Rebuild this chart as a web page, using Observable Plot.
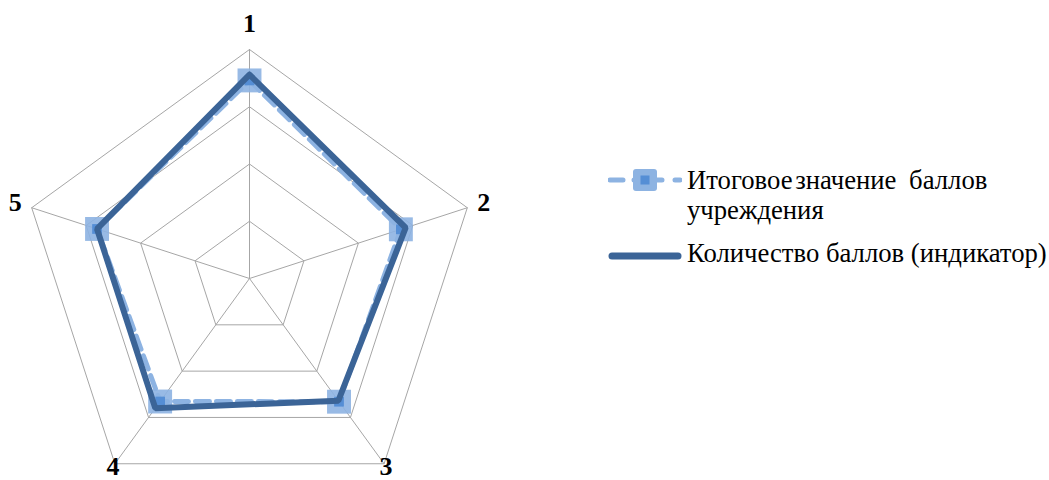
<!DOCTYPE html>
<html><head><meta charset="utf-8">
<script src="https://cdn.jsdelivr.net/npm/d3@7"></script>
<script src="https://cdn.jsdelivr.net/npm/@observablehq/plot@0.6"></script>
<style>
body{margin:0;background:#fff;}
#wrap{position:relative;width:1049px;height:480px;}
#legend{position:absolute;left:608px;top:165px;}
.txt{font-family:'Liberation Serif','Times New Roman',serif;font-size:26.7px;color:#000;line-height:30px;white-space:nowrap;}
.row{display:flex;align-items:flex-start;}
.row svg{flex:none;margin-right:5px;}
</style>
</head><body>
<div id="wrap"><div id="legend"></div></div>
<script>
const axes = ["1","2","3","4","5"];
const total = [0.865, 0.695, 0.665, 0.664, 0.70];   // Итоговое значение баллов учреждения
const indicator = [0.89, 0.717, 0.66, 0.70, 0.70];  // Количество баллов (индикатор)
const levels = [0.25, 0.5, 0.75, 1];
const seriesNames = ["Итоговое значение баллов учреждения", "Количество баллов (индикатор)"];

const n = axes.length;
const ang = i => i * 2 * Math.PI / n;
const pt = (r, i) => ({x: r * Math.sin(ang(i)), y: r * Math.cos(ang(i))});

const rings = levels.flatMap(l => d3.range(n + 1).map(i => ({...pt(l, i % n), level: l})));
const spokes = axes.flatMap((a, i) => [{...pt(0, i), a}, {...pt(1, i), a}]);
const totalPts = total.map((v, i) => ({...pt(v, i), axis: axes[i]}));
const indPts = indicator.map((v, i) => ({...pt(v, i), axis: axes[i]}));
const closed = arr => [...arr, arr[0]];
const labelR = i => i === 0 ? 1.113 : (i === 2 || i === 3) ? 1.015 : 1.075;
const labels = axes.map((a, i) => ({...pt(labelR(i), i), a}));

const light = "#8DB3E2", mid = "#558ED5", dark = "#3B6497", grid = "#A6A6A6";

const chart = Plot.plot({
  width: 1049, height: 480,
  margin: 0,
  x: {domain: [-1, 1], range: [20, 478], axis: null},
  y: {domain: [-1, 1], range: [507, 49], axis: null},
  style: {fontFamily: "'Liberation Serif'", background: "#fff"},
  marks: [
    Plot.line(rings, {x: "x", y: "y", z: "level", stroke: grid, strokeWidth: 1}),
    Plot.line(spokes, {x: "x", y: "y", z: "a", stroke: grid, strokeWidth: 1}),
    Plot.line(closed(totalPts), {x: "x", y: "y", stroke: light, strokeWidth: 5, strokeDasharray: "14,7"}),
    Plot.dot(totalPts, {x: "x", y: "y", symbol: "square", r: 13.5, fill: light, fillOpacity: 0.9}),
    Plot.dot(totalPts, {x: "x", y: "y", symbol: "square", r: 5.5, fill: mid}),
    Plot.line(closed(indPts), {x: "x", y: "y", stroke: dark, strokeWidth: 6, strokeLinejoin: "miter"}),
    Plot.text(labels, {x: "x", y: "y", text: "a", fontSize: 26, fontWeight: "bold", fontFamily: "Liberation Serif", fill: "#000", textAnchor: "middle", lineAnchor: "middle"})
  ]
});
document.getElementById("wrap").prepend(chart);

const w1 = seriesNames[0].split(" ");
const lg = document.getElementById("legend");
lg.innerHTML = `
<div class="row"><svg width="74" height="30"><line x1="2" y1="15" x2="72" y2="15" stroke="${light}" stroke-width="5" stroke-linecap="round" stroke-dasharray="13,11,0,8,8,4,8" /><rect x="25" y="4" width="24" height="22" rx="3" fill="${light}"/><rect x="32.5" y="10.5" width="9" height="9" fill="${mid}"/></svg><div class="txt"><span style="word-spacing:-4px">${w1[0]} ${w1[1]}</span><span style="word-spacing:6px"> ${w1[2]}</span><br>${w1[3]}</div></div>
<div class="row" style="margin-top:13px"><svg width="74" height="30"><line x1="4" y1="18" x2="70" y2="18" stroke="${dark}" stroke-width="7" stroke-linecap="round"/></svg><div class="txt">${seriesNames[1]}</div></div>`;
</script>
</body></html>
